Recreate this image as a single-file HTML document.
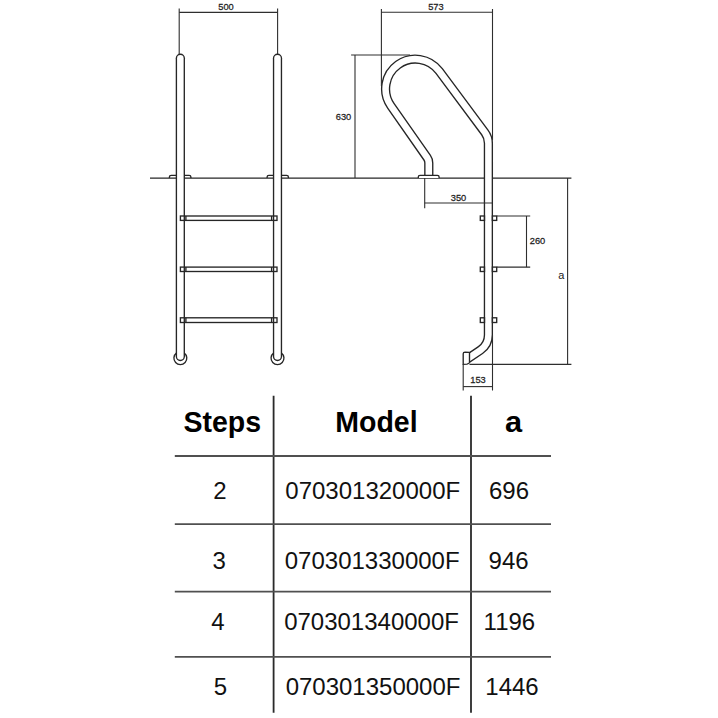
<!DOCTYPE html>
<html><head><meta charset="utf-8"><style>
html,body{margin:0;padding:0;background:#fff;width:718px;height:718px;overflow:hidden}
svg{display:block;font-family:"Liberation Sans",sans-serif}
</style></head><body>
<svg width="718" height="718" viewBox="0 0 718 718">
<line x1="150" y1="178.1" x2="571.4" y2="178.1" stroke="#262626" stroke-width="1.2"/>
<path d="M180.35,58.2 V356.55" stroke="#262626" stroke-width="9.25" stroke-linecap="round" fill="none"/>
<path d="M180.35,58.2 V356.55" stroke="#fff" stroke-width="6.55" stroke-linecap="round" fill="none"/>
<path d="M176.40,353.1 A6.45,6.45 0 1 0 184.30,353.1" stroke="#262626" stroke-width="1.35" fill="none"/>
<path d="M277.50,58.2 V356.55" stroke="#262626" stroke-width="9.25" stroke-linecap="round" fill="none"/>
<path d="M277.50,58.2 V356.55" stroke="#fff" stroke-width="6.55" stroke-linecap="round" fill="none"/>
<path d="M273.55,353.1 A6.45,6.45 0 1 0 281.45,353.1" stroke="#262626" stroke-width="1.35" fill="none"/>
<path d="M428.80,175.30 L428.80,162.89 A9.00,9.00 0 0 0 427.18,157.74 L390.91,105.84 A29.75,29.75 0 0 1 439.16,71.04 L484.84,132.39 A18.00,18.00 0 0 1 488.40,143.14 L488.40,335.00 A18.30,18.30 0 0 1 480.33,350.17 L460.00,363.89" stroke="#262626" stroke-width="9.25" fill="none"/>
<path d="M428.80,175.30 L428.80,162.89 A9.00,9.00 0 0 0 427.18,157.74 L390.91,105.84 A29.75,29.75 0 0 1 439.16,71.04 L484.84,132.39 A18.00,18.00 0 0 1 488.40,143.14 L488.40,335.00 A18.30,18.30 0 0 1 480.33,350.17 L460.00,363.89" stroke="#fff" stroke-width="6.55" fill="none"/>
<rect x="455" y="340" width="14.5" height="30" fill="#fff"/>
<path d="M169.40,178.1 V176.9 Q169.40,175.3 171.20,175.3 H176.40" stroke="#262626" stroke-width="1.35" fill="none"/>
<path d="M184.30,175.3 H189.10 Q190.90,175.3 190.90,176.9 V178.1" stroke="#262626" stroke-width="1.35" fill="none"/>
<path d="M267.10,178.1 V176.9 Q267.10,175.3 268.90,175.3 H273.50" stroke="#262626" stroke-width="1.35" fill="none"/>
<path d="M281.50,175.3 H286.60 Q288.40,175.3 288.40,176.9 V178.1" stroke="#262626" stroke-width="1.35" fill="none"/>
<path d="M418.3,178.1 V176.9 Q418.3,175.3 420,175.3 H437.4 Q439.1,175.3 439.1,176.9 V178.1" stroke="#262626" stroke-width="1.35" fill="#fff"/>
<rect x="180.4" y="216.00" width="96.6" height="4.40" stroke="#262626" stroke-width="1.35" fill="none"/>
<line x1="185.9" y1="216.00" x2="185.9" y2="220.40" stroke="#262626" stroke-width="1.35"/>
<line x1="271.6" y1="216.00" x2="271.6" y2="220.40" stroke="#262626" stroke-width="1.35"/>
<rect x="480.3" y="216.00" width="4.2" height="4.40" stroke="#262626" stroke-width="1.35" fill="none"/>
<rect x="492.4" y="216.00" width="4.3" height="4.40" stroke="#262626" stroke-width="1.35" fill="none"/>
<rect x="180.4" y="267.10" width="96.6" height="4.40" stroke="#262626" stroke-width="1.35" fill="none"/>
<line x1="185.9" y1="267.10" x2="185.9" y2="271.50" stroke="#262626" stroke-width="1.35"/>
<line x1="271.6" y1="267.10" x2="271.6" y2="271.50" stroke="#262626" stroke-width="1.35"/>
<rect x="480.3" y="267.10" width="4.2" height="4.40" stroke="#262626" stroke-width="1.35" fill="none"/>
<rect x="492.4" y="267.10" width="4.3" height="4.40" stroke="#262626" stroke-width="1.35" fill="none"/>
<rect x="180.4" y="317.80" width="96.6" height="4.70" stroke="#262626" stroke-width="1.35" fill="none"/>
<line x1="185.9" y1="317.80" x2="185.9" y2="322.50" stroke="#262626" stroke-width="1.35"/>
<line x1="271.6" y1="317.80" x2="271.6" y2="322.50" stroke="#262626" stroke-width="1.35"/>
<rect x="480.3" y="317.80" width="4.2" height="4.70" stroke="#262626" stroke-width="1.35" fill="none"/>
<rect x="492.4" y="317.80" width="4.3" height="4.70" stroke="#262626" stroke-width="1.35" fill="none"/>
<path d="M469.5,352.4 L465,352.1 Q463.2,352.1 463.2,353.8 V364.3 L467,364.1 Q469.3,363.6 469.5,362.5 Z" stroke="#262626" stroke-width="1.35" fill="#fff"/>
<line x1="179.20" y1="8.50" x2="179.20" y2="54.30" stroke="#2e2e2e" stroke-width="1.10"/>
<line x1="277.60" y1="8.50" x2="277.60" y2="54.30" stroke="#2e2e2e" stroke-width="1.10"/>
<line x1="179.20" y1="12.40" x2="277.60" y2="12.40" stroke="#2e2e2e" stroke-width="1.10"/>
<line x1="381.40" y1="9.00" x2="381.40" y2="86.00" stroke="#2e2e2e" stroke-width="1.10"/>
<line x1="492.50" y1="9.00" x2="492.50" y2="140.00" stroke="#2e2e2e" stroke-width="1.10"/>
<line x1="381.40" y1="12.30" x2="492.50" y2="12.30" stroke="#2e2e2e" stroke-width="1.10"/>
<line x1="351.10" y1="55.00" x2="410.00" y2="55.00" stroke="#2e2e2e" stroke-width="1.10"/>
<line x1="355.00" y1="55.00" x2="355.00" y2="178.10" stroke="#2e2e2e" stroke-width="1.10"/>
<line x1="424.70" y1="178.00" x2="424.70" y2="208.30" stroke="#2e2e2e" stroke-width="1.10"/>
<line x1="424.70" y1="203.00" x2="492.40" y2="203.00" stroke="#2e2e2e" stroke-width="1.10"/>
<line x1="496.70" y1="216.00" x2="530.20" y2="216.00" stroke="#2e2e2e" stroke-width="1.10"/>
<line x1="496.70" y1="267.10" x2="530.20" y2="267.10" stroke="#2e2e2e" stroke-width="1.10"/>
<line x1="526.50" y1="216.00" x2="526.50" y2="267.10" stroke="#2e2e2e" stroke-width="1.10"/>
<line x1="567.60" y1="178.10" x2="567.60" y2="364.40" stroke="#2e2e2e" stroke-width="1.10"/>
<line x1="469.50" y1="364.40" x2="571.40" y2="364.40" stroke="#2e2e2e" stroke-width="1.10"/>
<line x1="463.20" y1="364.30" x2="463.20" y2="390.50" stroke="#2e2e2e" stroke-width="1.10"/>
<line x1="492.50" y1="335.00" x2="492.50" y2="390.50" stroke="#2e2e2e" stroke-width="1.10"/>
<line x1="463.20" y1="386.60" x2="492.50" y2="386.60" stroke="#2e2e2e" stroke-width="1.10"/>
<text transform="translate(226.00,10.00) scale(0.950,1)" font-size="9.80" text-anchor="middle" font-weight="normal" fill="#222" stroke="#222" stroke-width="0.25">500</text>
<text transform="translate(435.90,10.00) scale(0.950,1)" font-size="9.80" text-anchor="middle" font-weight="normal" fill="#222" stroke="#222" stroke-width="0.25">573</text>
<text transform="translate(343.50,120.30) scale(0.950,1)" font-size="9.80" text-anchor="middle" font-weight="normal" fill="#222" stroke="#222" stroke-width="0.25">630</text>
<text transform="translate(458.50,200.90) scale(0.950,1)" font-size="9.80" text-anchor="middle" font-weight="normal" fill="#222" stroke="#222" stroke-width="0.25">350</text>
<text transform="translate(537.50,244.30) scale(0.950,1)" font-size="9.80" text-anchor="middle" font-weight="normal" fill="#222" stroke="#222" stroke-width="0.25">260</text>
<text transform="translate(478.00,383.20) scale(0.950,1)" font-size="9.80" text-anchor="middle" font-weight="normal" fill="#222" stroke="#222" stroke-width="0.25">153</text>
<text x="561.20" y="278.70" font-size="11.00" text-anchor="middle" font-weight="normal" fill="#222">a</text>
<line x1="273.6" y1="395.8" x2="273.6" y2="712.7" stroke="#2a2a2a" stroke-width="1.8"/>
<line x1="471.0" y1="395.8" x2="471.0" y2="712.7" stroke="#2a2a2a" stroke-width="1.8"/>
<line x1="174.8" y1="456.00" x2="551.0" y2="456.00" stroke="#505050" stroke-width="1.8"/>
<line x1="174.8" y1="524.10" x2="551.0" y2="524.10" stroke="#505050" stroke-width="1.8"/>
<line x1="174.8" y1="591.70" x2="551.0" y2="591.70" stroke="#505050" stroke-width="1.8"/>
<line x1="174.8" y1="656.80" x2="551.0" y2="656.80" stroke="#505050" stroke-width="1.8"/>
<text transform="translate(222.20,431.60) scale(1.000,1.050)" font-size="28.50" text-anchor="middle" font-weight="bold" fill="#000">Steps</text>
<text transform="translate(376.40,431.60) scale(1.000,1.050)" font-size="28.50" text-anchor="middle" font-weight="bold" fill="#000">Model</text>
<text transform="translate(513.50,431.60) scale(1.080,1.030)" font-size="28.50" text-anchor="middle" font-weight="bold" fill="#000">a</text>
<text x="220.00" y="498.70" font-size="24.00" text-anchor="middle" font-weight="normal" fill="#111">2</text>
<text x="372.75" y="498.70" font-size="24.00" text-anchor="middle" font-weight="normal" fill="#111">070301320000F</text>
<text x="509.00" y="498.70" font-size="24.00" text-anchor="middle" font-weight="normal" fill="#111">696</text>
<text x="219.30" y="568.50" font-size="24.00" text-anchor="middle" font-weight="normal" fill="#111">3</text>
<text x="372.20" y="568.50" font-size="24.00" text-anchor="middle" font-weight="normal" fill="#111">070301330000F</text>
<text x="508.60" y="568.50" font-size="24.00" text-anchor="middle" font-weight="normal" fill="#111">946</text>
<text x="218.00" y="629.90" font-size="24.00" text-anchor="middle" font-weight="normal" fill="#111">4</text>
<text x="371.55" y="629.90" font-size="24.00" text-anchor="middle" font-weight="normal" fill="#111">070301340000F</text>
<text x="509.40" y="629.90" font-size="24.00" text-anchor="middle" font-weight="normal" fill="#111">1196</text>
<text x="220.40" y="695.00" font-size="24.00" text-anchor="middle" font-weight="normal" fill="#111">5</text>
<text x="373.05" y="695.00" font-size="24.00" text-anchor="middle" font-weight="normal" fill="#111">070301350000F</text>
<text x="512.00" y="695.00" font-size="24.00" text-anchor="middle" font-weight="normal" fill="#111">1446</text>
</svg></body></html>
